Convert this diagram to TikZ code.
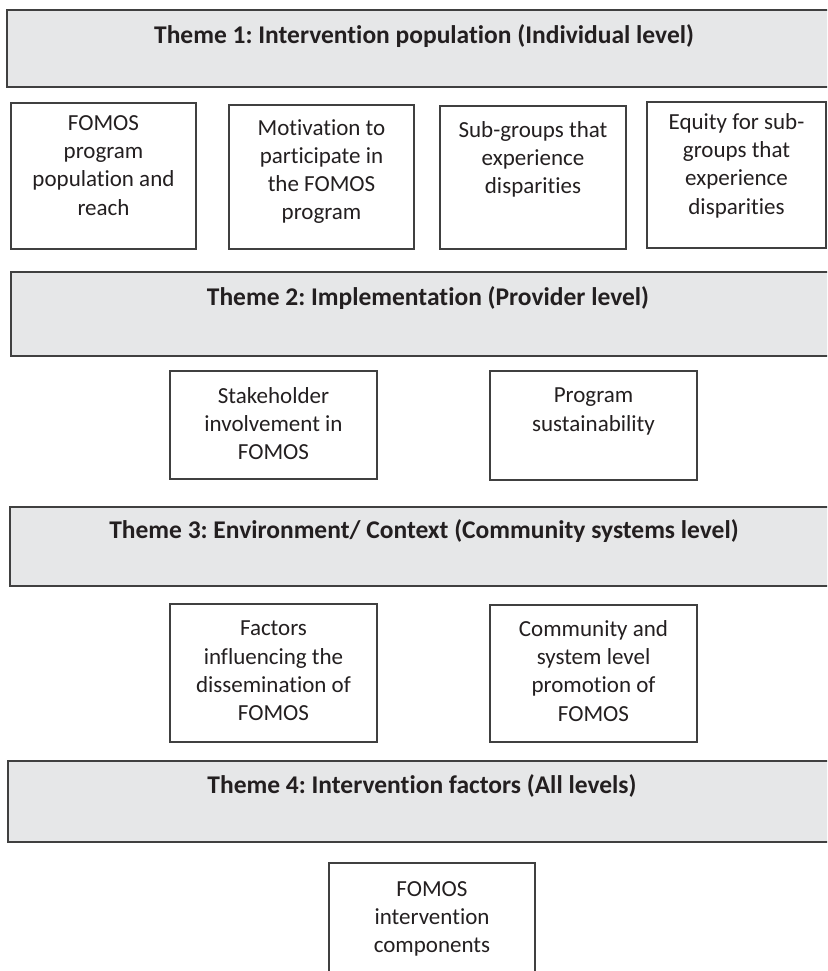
\documentclass[tikz,border=0pt]{standalone}
\usepackage{fontspec}
\setmainfont{Carlito}[Ligatures={NoCommon}]

\definecolor{bandgray}{HTML}{E6E7E8}
\definecolor{linegray}{HTML}{404040}
\definecolor{inkblack}{HTML}{231F20}

\tikzset{
    band/.style={draw=linegray, fill=bandgray, line width=1.2pt},
    itembox/.style={draw=linegray, line width=1.1pt},
    themetitle/.style={inner sep=0pt, text=inkblack, font=\fontsize{25.5}{30}\selectfont\bfseries},
    itemtext/.style={inner sep=0pt, anchor=north, align=center, text=inkblack, font=\fontsize{23}{28.3}\selectfont},
}

\begin{document}
\frenchspacing
\begin{tikzpicture}[x=1pt, y=-1pt]
    \clip (0, 0) rectangle (827, 971);
    \fill[white] (0, 0) rectangle (827, 971);

    % theme bands
    \draw[band] (7, 10) rectangle (841, 87);
    \node[themetitle] (theme1) at (424, 36) {Theme 1: Intervention population (Individual level)};
    \draw[band] (11, 272) rectangle (841, 356);
    \node[themetitle] (theme2) at (428, 298) {Theme 2: Implementation (Provider level)};
    \draw[band] (10, 507) rectangle (841, 586);
    \node[themetitle] (theme3) at (424, 531) {Theme 3: Environment/ Context (Community systems level)};
    \draw[band] (8, 761) rectangle (841, 842);
    \node[themetitle] (theme4) at (422, 786) {Theme 4: Intervention factors (All levels)};

    % theme 1 boxes
    \draw[itembox] (11, 103) rectangle (196, 249);
    \node[itemtext] (reach) at (103.5, 115) {FOMOS\\program\\population and\\reach};
    \draw[itembox] (229, 105) rectangle (414, 249);
    \node[itemtext] (motivation) at (321.5, 119) {Motivation to\\participate in\\the FOMOS\\program};
    \draw[itembox] (440, 106) rectangle (626, 249);
    \node[itemtext] (subgroups) at (533, 121) {Sub-groups that\\experience\\disparities};
    \draw[itembox] (647, 102) rectangle (826, 248);
    \node[itemtext] (equity) at (736.5, 113) {Equity for sub-\\groups that\\experience\\disparities};

    % theme 2 boxes
    \draw[itembox] (170, 371) rectangle (377, 479);
    \node[itemtext] (stakeholder) at (273.5, 387) {Stakeholder\\involvement in\\FOMOS};
    \draw[itembox] (490, 371) rectangle (697, 480);
    \node[itemtext] (sustain) at (593.5, 388) {Program\\sustainability};

    % theme 3 boxes
    \draw[itembox] (170, 604) rectangle (377, 742);
    \node[itemtext] (dissem) at (273.5, 621) {Factors\\influencing the\\dissemination of\\FOMOS};
    \draw[itembox] (490, 605) rectangle (697, 742);
    \node[itemtext] (promotion) at (593.5, 620) {Community and\\system level\\promotion of\\FOMOS};

    % theme 4 box
    \draw[itembox] (329, 863) rectangle (535, 990);
    \node[itemtext] (components) at (432, 881) {FOMOS\\intervention\\components};
\end{tikzpicture}
\end{document}
